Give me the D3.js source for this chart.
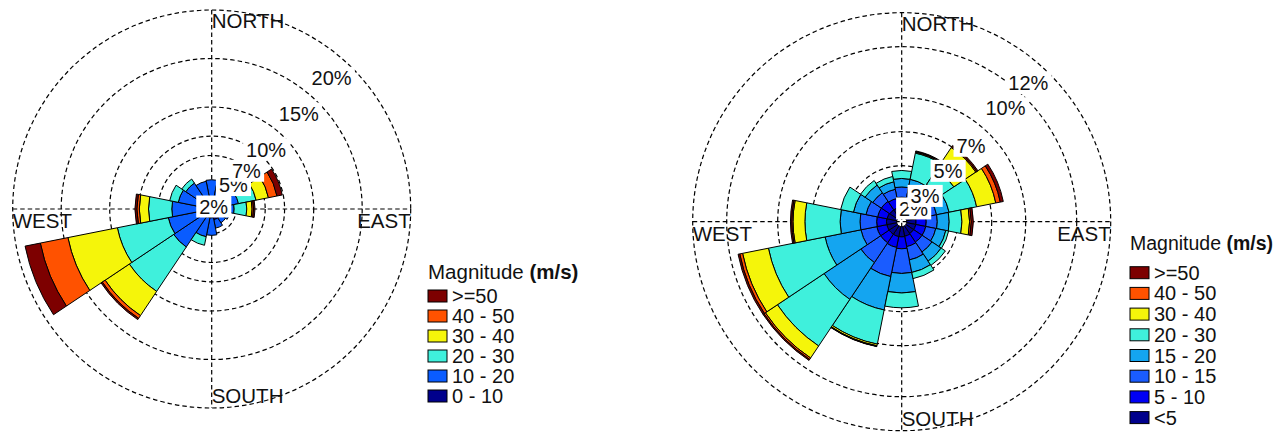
<!DOCTYPE html>
<html>
<head>
<meta charset="utf-8">
<script src="https://cdn.jsdelivr.net/npm/d3@7"></script>
<style>
  html, body { margin: 0; background: #fff; }
  svg { display: block; }
  text { font-family: "Liberation Sans", Arial, Helvetica, sans-serif; fill: #111; }
</style>
</head>
<body>
<svg id="chart" width="1284" height="435"></svg>
<script>
// Sixteen compass sectors, clockwise from north
const directions = ["N","NNE","NE","ENE","E","ESE","SE","SSE","S","SSW","SW","WSW","W","WNW","NW","NNW"];

// ---- Left rose: frequency (%) of each speed class per direction ----
const leftClasses = ["0 - 10","10 - 20","20 - 30","30 - 40","40 - 50",">=50"];
const left0_10  = [0.4,0.4,0.4,0.3,0.3,0.7,0.6,0.6,0.4,0.4,0.4,0.5,0.4,0.4,0.4,0.4];
const left10_20 = [2.1,1.6,1.2,2.0,1.5,0.7,0.6,0.9,1.8,2.0,3.8,3.55,3.2,2.6,2.3,2.0];
const left20_30 = [0,0,0.3,1.85,1.3,0,0,0,0,0.9,5.5,5.35,2.4,0.9,0.5,0];
const left30_40 = [0,0,0,1.3,0.55,0,0,0,0,0,3.0,5.2,0.95,0,0,0];
const left40_50 = [0,0,0,0.9,0.15,0,0,0,0,0,0.35,2.9,0.25,0,0,0];
const left50    = [0,0,0,0.55,0.15,0,0,0,0,0,0.15,1.6,0.2,0,0,0];
const leftRings = [2,5,7,10,15,20];
const leftRingLabels = [2,5,7,10,15,20];

// ---- Right rose ----
const rightClasses = ["<5","5 - 10","10 - 15","15 - 20","20 - 30","30 - 40","40 - 50",">=50"];
const rightLt5   = [.55,.55,.55,.55,.55,.55,.55,.58,.60,.60,.60,.60,.60,.58,.55,.55];
const right5_10  = [.60,.55,.60,.60,.60,.60,.60,.62,.70,.65,.60,.60,.58,.57,.60,.55];
const right10_15 = [.60,.50,.60,.65,.65,.60,.70,.80,1.45,1.75,1.40,.95,.98,.70,.60,.55];
const right15_20 = [.50,.65,.60,.75,.70,.60,.65,.75,1.15,2.00,2.60,2.15,1.17,.75,.55,.45];
const right20_30 = [.47,1.57,1.05,1.65,.75,.17,.30,.37,.87,2.05,3.30,3.40,2.07,.77,.32,.32];
const right30_40 = [0,.05,1.55,1.15,.45,0,0,0,0,.10,.85,1.55,.70,0,0,0];
const right40_50 = [0,.04,.07,.27,.10,0,0,0,0,.03,.10,.17,.07,0,0,0];
const right50    = [0,.04,.08,.18,.12,0,0,0,0,.02,.07,.10,.08,0,0,0];
const rightRings = [2,3,5,7,10,12];
const rightRingLabels = [2,3,5,7,10,12];

// Palettes (inner class first)
const leftColors  = ["#00008c","#0a5cff","#3ff0dc","#f5f50a","#ff5200","#7d0000"];
const rightColors = ["#00008c","#0000f5","#1a5cff","#14a5f0","#3ff0dc","#f5f50a","#ff5200","#7d0000"];

const svg = d3.select("#chart");
svg.append("rect").attr("width", 1284).attr("height", 435).attr("fill", "#fff");

function drawRose(o) {
  const g = svg.append("g").attr("transform", `translate(${o.cx},${o.cy})`);
  const r = d3.scaleLinear().domain([0, o.maxPct]).range([o.r0, o.R]);
  const step = 2 * Math.PI / directions.length;
  const angle = d3.scaleBand().domain(directions).range([-step / 2, 2 * Math.PI - step / 2]);

  // dashed rings and cross-hair
  const grid = g.append("g").attr("fill", "none").attr("stroke", "#000")
    .attr("stroke-width", 1.2).attr("stroke-dasharray", "4.5 3");
  grid.selectAll("circle").data(o.rings).join("circle").attr("r", d => r(d));
  grid.append("line").attr("x1", -r(o.maxPct)).attr("x2", r(o.maxPct)).attr("y1", 0).attr("y2", 0);
  grid.append("line").attr("y1", -r(o.maxPct)).attr("y2", r(o.maxPct)).attr("x1", 0).attr("x2", 0);

  // stacked sectors
  const rows = directions.map((d, i) => {
    const row = { dir: d };
    o.classes.forEach((c, k) => { row[c] = o.series[k][i]; });
    return row;
  });
  const stacked = d3.stack().keys(o.classes)(rows);
  const arc = d3.arc();
  const bars = g.append("g").attr("stroke", "#000").attr("stroke-width", 1).attr("stroke-linejoin", "round");
  stacked.forEach((s, k) => {
    bars.append("g").selectAll("path")
      .data(s.filter(p => p[1] - p[0] > 0))
      .join("path")
      .attr("fill", o.colors[k])
      .attr("d", p => arc({
        innerRadius: r(p[0]), outerRadius: r(p[1]),
        startAngle: angle(p.data.dir), endAngle: angle(p.data.dir) + angle.bandwidth()
      }));
  });

  // ring labels on white boxes
  const lab = g.append("g");
  const a = o.labelBearing * Math.PI / 180;
  o.labels.forEach(v => {
    const x = r(v) * Math.sin(a) + o.labelShift[0];
    const y = -r(v) * Math.cos(a) + o.labelShift[1];
    const t = lab.append("text").attr("x", x).attr("y", y).attr("dy", "0.36em")
      .attr("text-anchor", "middle").style("font-size", "20px").text(v + "%");
    const bb = t.node().getBBox();
    lab.insert("rect", () => t.node())
      .attr("x", bb.x - 3).attr("y", y - 11).attr("width", bb.width + 6).attr("height", 22)
      .attr("fill", "#fff");
  });

  // compass words
  const R = r(o.maxPct);
  const cw = g.append("g").style("font-size", "20.5px");
  cw.append("text").attr("x", 0).attr("y", -R + 18).text("NORTH");
  cw.append("text").attr("x", 0).attr("y", R - 5).text("SOUTH");
  cw.append("text").attr("x", -R).attr("y", 19).text("WEST");
  cw.append("text").attr("x", R).attr("y", 19).attr("text-anchor", "end").text("EAST");
}

function drawLegend(o) {
  const g = svg.append("g").attr("transform", `translate(${o.x},${o.y})`);
  const title = g.append("text").attr("x", 0).attr("y", 0).style("font-size", o.titleSize + "px");
  title.append("tspan").text("Magnitude ");
  title.append("tspan").attr("font-weight", "bold").text("(m/s)");
  const items = o.classes.map((c, k) => ({ c, col: o.colors[k] })).reverse();
  const row = g.selectAll("g.item").data(items).join("g")
    .attr("transform", (d, i) => `translate(0,${o.top + i * o.pitch})`);
  row.append("rect").attr("x", 0).attr("y", 0).attr("width", 19).attr("height", 12)
    .attr("fill", d => d.col).attr("stroke", "#000").attr("stroke-width", 1);
  row.append("text").attr("x", 24).attr("y", 13).style("font-size", o.textSize + "px").text(d => d.c);
}

drawRose({
  cx: 211.7, cy: 209, R: 199, r0: 5, maxPct: 20,
  classes: leftClasses,
  series: [left0_10, left10_20, left20_30, left30_40, left40_50, left50],
  colors: leftColors, rings: leftRings, labels: leftRingLabels,
  labelBearing: 42.5, labelShift: [-14.5, 15.5]
});
drawRose({
  cx: 901.7, cy: 221.7, R: 209, r0: 5, maxPct: 12,
  classes: rightClasses,
  series: [rightLt5, right5_10, right10_15, right15_20, right20_30, right30_40, right40_50, right50],
  colors: rightColors, rings: rightRings, labels: rightRingLabels,
  labelBearing: 42.5, labelShift: [-14.5, 15.5]
});

drawLegend({ x: 428, y: 279, top: 11, pitch: 20, titleSize: 20.5, textSize: 20, classes: leftClasses, colors: leftColors });
drawLegend({ x: 1130, y: 250, top: 16.7, pitch: 20.7, titleSize: 19.5, textSize: 20, classes: rightClasses, colors: rightColors });
</script>
</body>
</html>
